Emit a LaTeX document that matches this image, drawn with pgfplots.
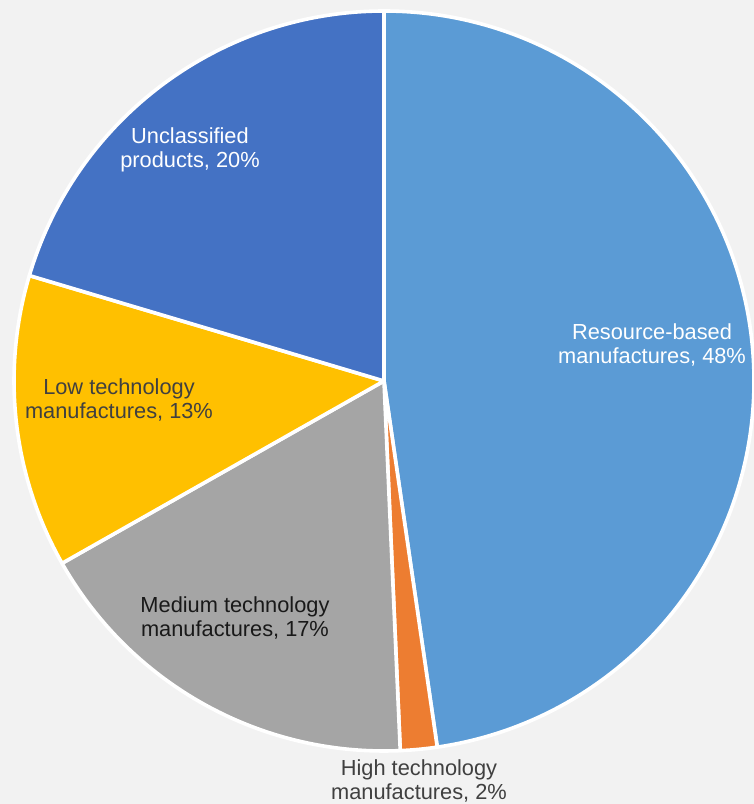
\documentclass[border=0pt]{standalone}
\usepackage{fontspec}
\setmainfont{Liberation Sans}
\usepackage{pgfplots}
\pgfplotsset{compat=1.18}

\definecolor{bgc}{HTML}{F2F2F2}
\definecolor{resc}{HTML}{5B9BD5}
\definecolor{highc}{HTML}{ED7D31}
\definecolor{medc}{HTML}{A5A5A5}
\definecolor{lowc}{HTML}{FFC000}
\definecolor{uncc}{HTML}{4472C4}
\definecolor{darktxt}{HTML}{404040}

\begin{document}
\begin{tikzpicture}
\begin{axis}[
    width=377pt, height=402pt, scale only axis,
    xmin=0, xmax=754, ymin=0, ymax=804,
    hide axis,
]
% background
\fill[bgc] (axis cs:0,0) rectangle (axis cs:754,804);

% pie: shares in percent, clockwise from 12 o'clock
\gdef\acc{90}
\foreach \v/\c in {47.7/resc, 1.6/highc, 17.5/medc, 12.8/lowc, 20.4/uncc}{
    \pgfmathsetmacro\a{\acc}
    \pgfmathsetmacro\b{\acc-3.6*\v}
    \edef\temp{\noexpand\fill[\c, draw=white, line width=1.8pt, line join=round]
        (axis cs:384,423) -- ++(\a:185pt) arc[start angle=\a, end angle=\b, radius=185pt] -- cycle;}
    \temp
    \xdef\acc{\b}
}

\tikzset{lbl/.style={align=center, font=\fontsize{10.9}{12}\selectfont, inner sep=0pt}}
\node[lbl, white] at (axis cs:652,459) {Resource-based\\manufactures, 48\%};
\node[lbl, darktxt] at (axis cs:419,23) {High technology\\manufactures, 2\%};
\node[lbl, black!90] at (axis cs:235,186) {Medium technology\\manufactures, 17\%};
\node[lbl, darktxt] at (axis cs:119,404) {Low technology\\manufactures, 13\%};
\node[lbl, white] at (axis cs:190,654) {Unclassified\\products, 20\%};
\end{axis}
\end{tikzpicture}
\end{document}
